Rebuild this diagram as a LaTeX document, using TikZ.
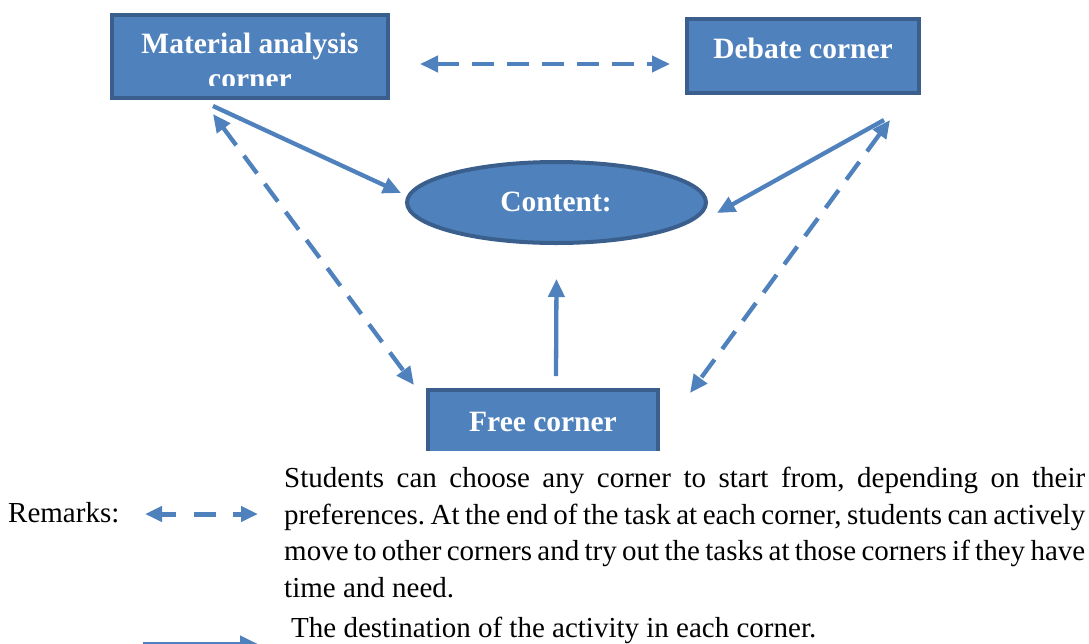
\documentclass[tikz,border=0pt]{standalone}
\usepackage{fontspec}
\setmainfont{Liberation Serif}
\usetikzlibrary{arrows.meta,shapes.geometric}
\definecolor{boxfill}{HTML}{4F81BD}
\definecolor{boxline}{HTML}{3A5F8C}
\definecolor{arrowc}{HTML}{4F81BD}
\tikzset{
  cornerbox/.style={rectangle, draw=boxline, fill=boxfill, line width=4pt, inner sep=0pt},
  boxtext/.style={font=\fontsize{29.5}{33}\selectfont\bfseries, text=white, inner sep=0pt, anchor=base},
  solidarrow/.style={draw=arrowc, line width=4.3pt, -{Triangle[length=18pt,width=16pt]}},
  dasharrow/.style={draw=arrowc, line width=4.3pt, dash pattern=on 22pt off 13pt, {Triangle[length=18pt,width=16pt]}-{Triangle[length=18pt,width=16pt]}},
  bodytext/.style={font=\fontsize{29}{36.5}\selectfont, inner sep=0pt, text=black}
}
\begin{document}
\begin{tikzpicture}[x=1pt,y=-1pt]
\useasboundingbox (0,0) rectangle (1089,643);
% boxes
\node[cornerbox, minimum width=276pt, minimum height=83pt] (mat) at (250,56.5) {};
\node[cornerbox, minimum width=232pt, minimum height=74pt] (deb) at (803,56) {};
\node[ellipse, draw=boxline, fill=boxfill, line width=4pt, inner sep=0pt, minimum width=299pt, minimum height=81pt] (con) at (556.5,202.5) {};
\begin{scope}
  \clip (400,370) rectangle (700,450);
  \node[cornerbox, minimum width=230pt, minimum height=78pt] (free) at (543,429) {};
\end{scope}
% box texts
\node[boxtext] (mattxt) at (250,53) {Material analysis};
\begin{scope}
  \clip (120,20) rectangle (380,85);
  \node[boxtext] (mattxt2) at (250,88) {corner};
\end{scope}
\node[boxtext] (debtxt) at (803,58) {Debate corner};
\node[boxtext] (contxt) at (556,211) {Content:};
\node[boxtext] (freetxt) at (543,431) {Free corner};
% connectors
\draw[dasharrow] ([xshift=30pt,yshift=-7.5pt]mat.east) -- ([xshift=-15pt,yshift=-8pt]deb.west);
\draw[solidarrow] ([xshift=-37pt,yshift=-6pt]mat.south) -- ([xshift=-4pt,yshift=9.5pt]con.west);
\draw[solidarrow] ([xshift=81pt,yshift=-25pt]deb.south) -- ([xshift=9pt,yshift=-10.5pt]con.east);
\draw[dasharrow] ([xshift=-37pt,yshift=-14pt]mat.south) -- ([xshift=-12pt,yshift=3pt]free.north west);
\draw[dasharrow] ([xshift=87pt,yshift=-25pt]deb.south) -- ([xshift=30pt,yshift=-5pt]free.north east);
\draw[solidarrow] ([xshift=13pt,yshift=12pt]free.north) -- ([xshift=0pt,yshift=-34pt]con.south);
% legend
\node[bodytext, anchor=base west] (rem) at (8,522) {Remarks:};
\coordinate (la) at (145,514);
\coordinate (lb) at (258,514);
\draw[draw=arrowc, line width=5pt, dash pattern=on 15pt off 18pt on 22pt off 17pt on 20pt,
  {Triangle[length=17pt,width=15pt]}-{Triangle[length=17pt,width=15pt]}] (la) -- (lb);
\node[bodytext, anchor=north west, text width=801pt, align=justify] (para) at (284,467)
 {\frenchspacing\hyphenpenalty=10000 Students can choose any corner to start from, depending on their\linebreak preferences. At the end of the task at each corner, students can actively\linebreak move to other corners and try out the tasks at those corners if they have\linebreak time and need.};
\coordinate (sa) at (143,644);
\coordinate (sb) at (258,644);
\draw[solidarrow] (sa) -- (sb);
\node[bodytext, anchor=base west] (dest) at (291,637) {The destination of the activity in each corner.};
\end{tikzpicture}
\end{document}
